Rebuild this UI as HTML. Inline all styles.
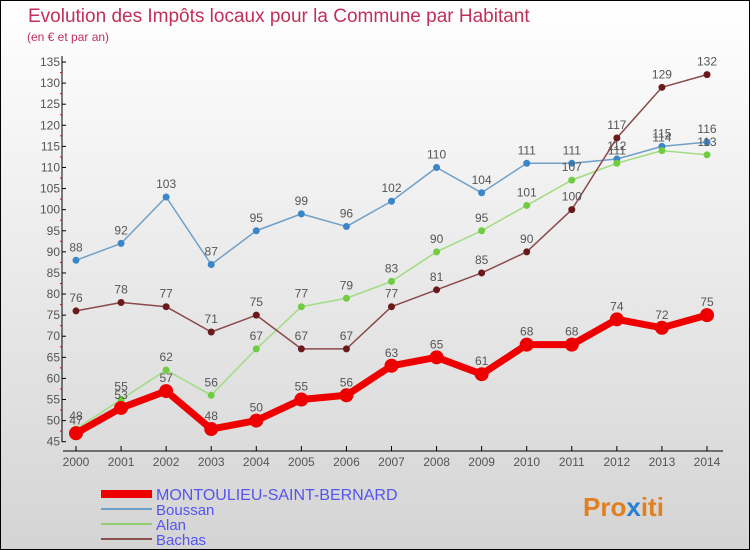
<!DOCTYPE html>
<html><head><meta charset="utf-8"><style>
body{margin:0}
#c{width:750px;height:550px;position:relative;box-sizing:border-box;border:1px solid #000;background:linear-gradient(#fff,#d4d4d4);font-family:"Liberation Sans",sans-serif;overflow:hidden}
svg{position:absolute;left:0;top:0}
</style></head><body>
<div id="c">
<svg id="s" width="750" height="550">
<text x="27" y="21" font-size="19" fill="#c0305a">Evolution des Impôts locaux pour la Commune par Habitant</text>
<text x="26" y="40" font-size="12" fill="#c0305a">(en € et par an)</text>
<g id="axes"></g><g id="series"></g>
<g>
<line x1="100" y1="493" x2="151" y2="493" stroke="#e00" stroke-width="8"/>
<text x="155" y="499" font-size="16" fill="#5555ee">MONTOULIEU-SAINT-BERNARD</text>
<line x1="100" y1="508" x2="151" y2="508" stroke="#6fa0c8" stroke-width="2"/>
<text x="155" y="514" font-size="15" fill="#5555ee">Boussan</text>
<line x1="100" y1="523" x2="151" y2="523" stroke="#90d070" stroke-width="2"/>
<text x="155" y="529" font-size="15" fill="#5555ee">Alan</text>
<line x1="100" y1="538" x2="151" y2="538" stroke="#8a5050" stroke-width="2"/>
<text x="155" y="544" font-size="15" fill="#5555ee">Bachas</text>
</g>
<text x="582" y="515" font-size="26" font-weight="bold" fill="#e08020">Pro<tspan fill="#2a7fd0">x</tspan>iti</text>
</svg>
</div>
<script>
const years=[2000,2001,2002,2003,2004,2005,2006,2007,2008,2009,2010,2011,2012,2013,2014];
const yTicks=[45,50,55,60,65,70,75,80,85,90,95,100,105,110,115,120,125,130,135];
const montoulieu=[47,53,57,48,50,55,56,63,65,61,68,68,74,72,75];
const boussan=[88,92,103,87,95,99,96,102,110,104,111,111,112,115,116];
const alan=[48,55,62,56,67,77,79,83,90,95,101,107,111,114,113];
const bachas=[76,78,77,71,75,67,67,77,81,85,90,100,117,129,132];
const NS="http://www.w3.org/2000/svg";
function X(i){return 75+i*(706-75)/(years.length-1);}
function Y(v){return 440.7-(v-45)*(440.7-61)/90;}
function mk(t,a,p){const e=document.createElementNS(NS,t);for(const k in a)e.setAttribute(k,a[k]);p.appendChild(e);return e;}
const ax=document.getElementById('axes');
let l=mk('line',{x1:61,y1:55,x2:61,y2:441,stroke:'#000'},ax);


l=mk('line',{x1:62,y1:450,x2:722,y2:450,stroke:'#000'},ax);


yTicks.forEach((v,i)=>{
 mk('line',{x1:61,y1:Y(v),x2:65,y2:Y(v),stroke:'#000'},ax);
 if(i<yTicks.length-1)mk('line',{x1:59,y1:Y(v+2.5),x2:61,y2:Y(v+2.5),stroke:'#e00'},ax);
 const t=mk('text',{x:59,y:Y(v)+4,'font-size':12,'text-anchor':'end',fill:'#555'},ax);t.textContent=v;
 
 
});
years.forEach((y,i)=>{
 mk('line',{x1:X(i),y1:445,x2:X(i),y2:450,stroke:'#000'},ax);
 const t=mk('text',{x:X(i),y:465,'font-size':12,'text-anchor':'middle',fill:'#555'},ax);t.textContent=y;
 
 
});
const sg=document.getElementById('series');
function draw(name,data,color,w,r,dot){
 const g=mk('g',{},sg);
 
 
 const p=mk('polyline',{points:data.map((v,i)=>X(i)+','+Y(v)).join(' '),fill:'none',stroke:color,'stroke-width':w,'stroke-linejoin':'round'},g);
 
 
 data.forEach((v,i)=>{
  const c=mk('circle',{cx:X(i),cy:Y(v),r:r,fill:dot},g);
  
  
  const t=mk('text',{x:X(i),y:Y(v)-9,'font-size':12,'text-anchor':'middle',fill:'#555'},g);t.textContent=v;
  
  
 });
}
draw('boussan',boussan,'#6fa0c8',1.5,3.5,'#3a86c8');
draw('alan',alan,'#a0dc80',1.5,3.5,'#70cc40');
draw('bachas',bachas,'#8a4a4a',1.5,3.5,'#6a1a1a');
draw('montoulieu',montoulieu,'#e00',7,7,'#e00');
</script>
</body></html>
